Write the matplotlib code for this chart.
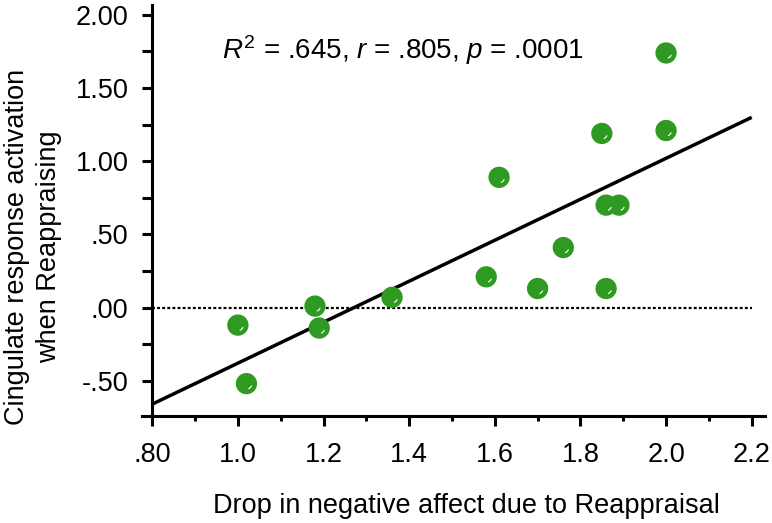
import matplotlib

matplotlib.use("Agg")
import matplotlib.pyplot as plt
import numpy as np
from matplotlib.path import Path
from matplotlib.ticker import FixedLocator, NullFormatter

plt.rcParams["font.family"] = ["Liberation Sans", "DejaVu Sans"]
plt.rcParams["mathtext.fontset"] = "custom"
plt.rcParams["mathtext.rm"] = "Liberation Sans"
plt.rcParams["mathtext.it"] = "Liberation Sans:italic"

OUTPUT_PATH = "out.png"

# data
DROP_NEG_AFFECT = [1.00, 1.02, 1.18, 1.19, 1.36, 1.58, 1.61, 1.70, 1.76,
                   1.85, 1.86, 1.86, 1.89, 2.00, 2.00]
CINGULATE_ACT = [-0.12, -0.52, 0.01, -0.14, 0.07, 0.21, 0.89, 0.13, 0.41,
                 1.19, 0.70, 0.13, 0.70, 1.21, 1.74]
FIT_SLOPE = 1.40
FIT_INTERCEPT = -1.78
STATS_TEXT = r"$R^{2}$ = .645, $r$ = .805, $p$ = .0001"

X_TICKS = [0.8, 1.0, 1.2, 1.4, 1.6, 1.8, 2.0, 2.2]
X_TICK_LABELS = [".80", "1.0", "1.2", "1.4", "1.6", "1.8", "2.0", "2.2"]
X_MINOR = [0.9, 1.1, 1.3, 1.5, 1.7, 1.9, 2.1]
Y_TICKS = [-0.5, 0.0, 0.5, 1.0, 1.5, 2.0]
Y_TICK_LABELS = ["-.50", ".00", ".50", "1.00", "1.50", "2.00"]
Y_MINOR = [-0.25, 0.25, 0.75, 1.25, 1.75]

X_LABEL = "Drop in negative affect due to Reappraisal"
Y_LABEL = "Cingulate response activation\nwhen Reappraising"

GREEN = "#2e9a22"
FONT_SIZE = 19.5


def highlight_marker() -> Path:
    """Small arc used as the white glint on each dot."""
    return Path.arc(-70, -20)


def draw(ax: plt.Axes) -> None:
    x_values = np.asarray(DROP_NEG_AFFECT)
    y_values = np.asarray(CINGULATE_ACT)

    # zero reference and regression line
    ax.plot([X_TICKS[0], X_TICKS[-1]], [0, 0], color="black", linewidth=1.6,
            linestyle=(0, (1.3, 1.0)), zorder=2)
    fit_x = np.array([X_TICKS[0], X_TICKS[-1]])
    ax.plot(fit_x, FIT_INTERCEPT + FIT_SLOPE * fit_x, color="black",
            linewidth=2.5, solid_capstyle="butt", zorder=3)

    ax.scatter(x_values, y_values, s=235, color=GREEN, edgecolors="none", zorder=4)
    ax.scatter(x_values, y_values, s=55, marker=highlight_marker(),
               facecolors="none", edgecolors="white", linewidths=0.8, zorder=5)

    ax.text(0.962, 1.70, STATS_TEXT, fontsize=FONT_SIZE + 0.5, va="baseline", ha="left")

    ax.set_xlim(0.776, 2.231)
    ax.set_ylim(-0.739, 2.068)

    for side in ("top", "right"):
        ax.spines[side].set_visible(False)
    ax.spines["left"].set_position(("data", X_TICKS[0]))
    for side in ("left", "bottom"):
        ax.spines[side].set_linewidth(2.2)

    ax.xaxis.set_major_locator(FixedLocator(X_TICKS))
    ax.set_xticklabels(X_TICK_LABELS)
    ax.xaxis.set_minor_locator(FixedLocator(X_MINOR))
    ax.xaxis.set_minor_formatter(NullFormatter())
    ax.yaxis.set_major_locator(FixedLocator(Y_TICKS))
    ax.set_yticklabels(Y_TICK_LABELS)
    ax.yaxis.set_minor_locator(FixedLocator(Y_MINOR))
    ax.yaxis.set_minor_formatter(NullFormatter())

    ax.tick_params(axis="both", which="major", direction="out", width=2.2,
                   length=7.2, labelsize=FONT_SIZE)
    ax.tick_params(axis="x", which="major", pad=12)
    ax.tick_params(axis="y", which="major", pad=10)
    ax.tick_params(axis="x", which="minor", direction="out", width=2.2, length=3.6)
    ax.tick_params(axis="y", which="minor", direction="out", width=2.2, length=7.2)


def build_plot() -> None:
    fig = plt.figure(figsize=(7.72, 5.23), dpi=100)
    ax = fig.add_axes([0.1839, 0.2052, 0.807, 0.7853])
    draw(ax)
    fig.text(0.6036, 0.0185, X_LABEL, fontsize=FONT_SIZE, ha="center", va="baseline")
    fig.text(0.0425, 0.528, Y_LABEL, fontsize=FONT_SIZE, rotation=90, ha="center",
             va="center", multialignment="center", linespacing=1.3)
    fig.savefig(OUTPUT_PATH, dpi=100)
    plt.close(fig)


def main() -> None:
    build_plot()


if __name__ == "__main__":
    main()
